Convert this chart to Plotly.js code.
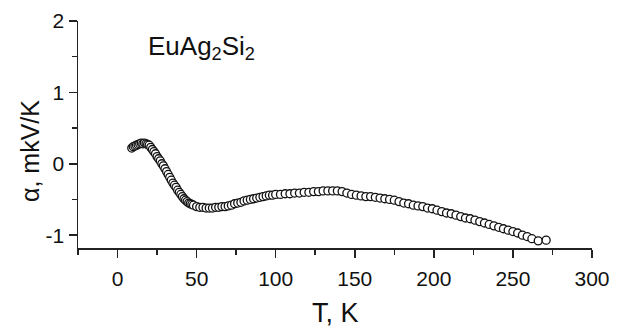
<!DOCTYPE html>
<html>
<head>
<meta charset="utf-8">
<script src="https://cdn.plot.ly/plotly-3.0.1.min.js"></script>
<style>html,body{margin:0;padding:0;background:#fff;}#chart{width:619px;height:331px;}</style>
</head>
<body>
<div id="chart"></div>
<script>
var temperatureK = [9,10,11,12,13,14,15,16,17,18,19,20,21,22,23,24,25,26,27,28,29,30,31,32,33,34,35,36,37,38,39,40,41,42,43,44,45,46,47,48,50,52,54,56,58,60,62,64,66,68,70,72,74,76,78,80,82,84,86,88,90,92,94,96,98,100,103,106,109,112,115,118,121,124,127,130,133,136,139,142,145,148,151,154,157,160,163,166,169,172,175,178,181,184,187,190,193,196,199,202,205,208,211,214,217,220,223,226,229,232,235,238,241,244,247,250,253,256,259,262,266,271];
var alphaValues = [0.22,0.24,0.25,0.26,0.27,0.28,0.29,0.28,0.29,0.28,0.27,0.26,0.23,0.20,0.17,0.14,0.10,0.07,0.04,0.00,-0.03,-0.07,-0.11,-0.15,-0.19,-0.23,-0.27,-0.30,-0.33,-0.37,-0.40,-0.43,-0.46,-0.49,-0.51,-0.53,-0.55,-0.56,-0.57,-0.58,-0.60,-0.61,-0.61,-0.62,-0.62,-0.62,-0.61,-0.61,-0.60,-0.60,-0.59,-0.58,-0.56,-0.55,-0.54,-0.52,-0.51,-0.50,-0.49,-0.48,-0.47,-0.46,-0.45,-0.44,-0.44,-0.43,-0.43,-0.42,-0.42,-0.41,-0.41,-0.40,-0.40,-0.39,-0.39,-0.38,-0.38,-0.38,-0.38,-0.39,-0.41,-0.43,-0.44,-0.45,-0.46,-0.46,-0.47,-0.48,-0.49,-0.50,-0.51,-0.53,-0.55,-0.56,-0.58,-0.59,-0.60,-0.62,-0.63,-0.65,-0.67,-0.69,-0.70,-0.72,-0.74,-0.76,-0.77,-0.79,-0.81,-0.83,-0.85,-0.87,-0.89,-0.91,-0.93,-0.95,-0.97,-1.00,-1.02,-1.05,-1.08,-1.07];
var xTickVals = [0,50,100,150,200,250,300];
var yTickVals = [-1,0,1,2];
var sampleLabel = 'EuAg<sub>2</sub>Si<sub>2</sub>';
var xTitle = 'T, K';
var yTitle = '\u03b1, mkV/K';

var font = 'Liberation Sans, Arial, sans-serif';
var trace = {
  x: temperatureK, y: alphaValues, type: 'scatter', mode: 'markers',
  marker: {symbol: 'circle', size: 8, color: '#ffffff', line: {color: '#111111', width: 1.3}},
  hoverinfo: 'none'
};
var layout = {
  width: 619, height: 331,
  margin: {l: 78, r: 27, t: 21, b: 83},
  paper_bgcolor: '#fff', plot_bgcolor: '#fff',
  showlegend: false,
  font: {family: font, color: '#111', size: 21},
  xaxis: {
    range: [-25, 300], showgrid: false, zeroline: false,
    showline: true, linecolor: '#222', linewidth: 1.5,
    ticks: 'outside', ticklen: 8, tickwidth: 1.5, tickcolor: '#222',
    tickvals: xTickVals, ticktext: xTickVals.map(String),
    minor: {dtick: 25, tick0: -25, ticks: 'outside', ticklen: 5, tickwidth: 1.5, tickcolor: '#222'},
    tickfont: {size: 21, family: font}, ticklabelstandoff: 3
  },
  yaxis: {
    range: [-1.18, 2], showgrid: false, zeroline: false,
    showline: true, linecolor: '#222', linewidth: 1.5,
    ticks: 'outside', ticklen: 8, tickwidth: 1.5, tickcolor: '#222',
    tickvals: yTickVals, ticktext: ['-1','0','1','2'],
    minor: {dtick: 0.5, tick0: 0, ticks: 'outside', ticklen: 5, tickwidth: 1.5, tickcolor: '#222'},
    tickfont: {size: 21, family: font}, ticklabelstandoff: 0
  },
  annotations: [
    {text: sampleLabel, xref: 'paper', yref: 'paper', x: (146-78)/514, y: (331-83-47)/227, xanchor: 'left', yanchor: 'middle', showarrow: false, font: {size: 26, family: font, color: '#111'}},
    {text: xTitle, xref: 'paper', yref: 'paper', x: 0.5, y: -(313-248)/227, xanchor: 'center', yanchor: 'middle', showarrow: false, font: {size: 27, family: font, color: '#111'}},
    {text: yTitle, xref: 'paper', yref: 'paper', x: -(78-30)/514, y: (248-151)/227, xanchor: 'center', yanchor: 'middle', textangle: -90, showarrow: false, font: {size: 25, family: font, color: '#111'}}
  ]
};
Plotly.newPlot('chart', [trace], layout, {displayModeBar: false, staticPlot: true});
</script>
</body>
</html>
